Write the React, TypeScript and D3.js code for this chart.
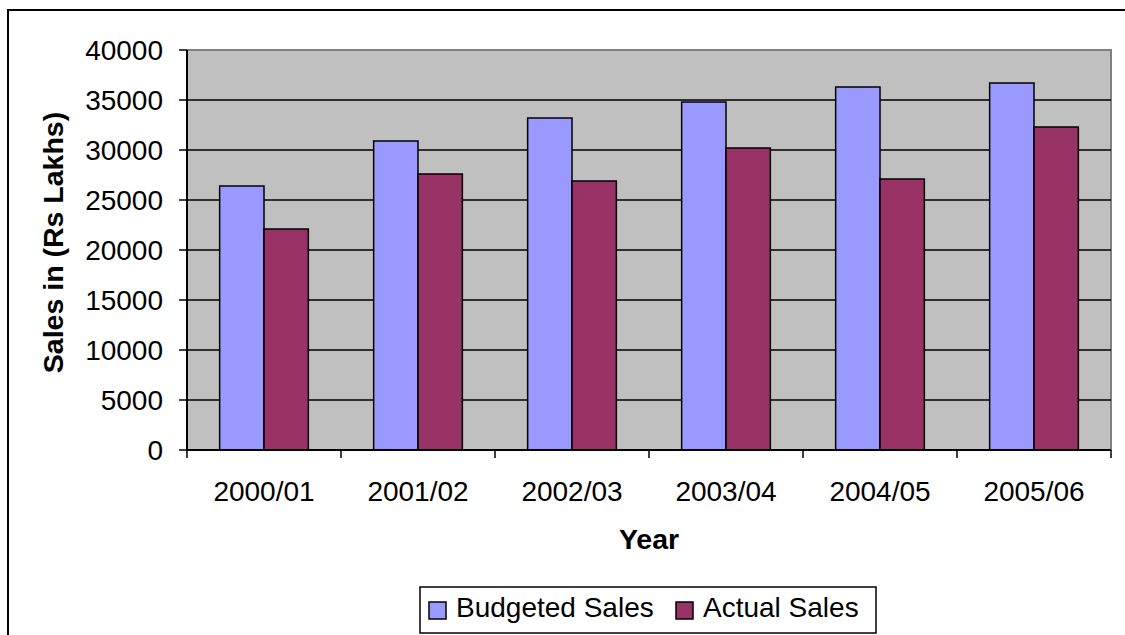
import React from "react";
import * as d3 from "d3";

const categories = ["2000/01", "2001/02", "2002/03", "2003/04", "2004/05", "2005/06"];
const budgetedSales = [26400, 30900, 33200, 34800, 36300, 36700];
const actualSales = [22100, 27600, 26900, 30200, 27100, 32300];
const seriesNames = ["Budgeted Sales", "Actual Sales"];
const seriesColors = ["#9999FF", "#993366"];
const yTicks = [0, 5000, 10000, 15000, 20000, 25000, 30000, 35000, 40000];

const W = 1125;
const H = 635;
const plot = { left: 187, right: 1111, top: 50, bottom: 450 };
const FONT = "'Liberation Sans', Arial, sans-serif";

export default function App() {
  const x = d3
    .scaleBand<string>()
    .domain(categories)
    .range([plot.left, plot.right])
    .paddingInner(0.424)
    .paddingOuter(0.212);
  const xSub = d3.scaleBand<number>().domain([0, 1]).range([0, x.bandwidth()]);
  const y = d3.scaleLinear().domain([0, 40000]).range([plot.bottom, plot.top]);
  const step = (plot.right - plot.left) / categories.length;
  const boundaries = d3.range(categories.length + 1).map((i) => plot.left + i * step);
  const series = [budgetedSales, actualSales];

  return (
    <svg
      width={W}
      height={H}
      style={{ position: "absolute", left: 0, top: 0, background: "#fff" }}
      fontFamily={FONT}
    >
      <rect x={0} y={0} width={W} height={H} fill="#fff" />
      {/* outer frame */}
      <rect x={8} y={10} width={1300} height={800} fill="none" stroke="#000" strokeWidth={2} />
      {/* plot area */}
      <rect
        x={plot.left}
        y={plot.top}
        width={plot.right - plot.left}
        height={plot.bottom - plot.top}
        fill="#C0C0C0"
        stroke="#808080"
        strokeWidth={2}
      />
      {/* gridlines */}
      {yTicks.filter((t) => t > 0 && t < 40000).map((t) => (
        <line key={t} x1={plot.left} x2={plot.right} y1={y(t)} y2={y(t)} stroke="#000" strokeWidth={1.5} />
      ))}
      {/* bars */}
      {categories.map((c, i) => (
        <g key={c}>
          {series.map((s, k) => (
            <rect
              key={k}
              x={(x(c) as number) + (xSub(k) as number)}
              y={y(s[i])}
              width={xSub.bandwidth()}
              height={y(0) - y(s[i])}
              fill={seriesColors[k]}
              stroke="#000"
              strokeWidth={1.5}
            />
          ))}
        </g>
      ))}
      {/* axes */}
      <line x1={plot.left} x2={plot.left} y1={plot.top} y2={plot.bottom} stroke="#000" strokeWidth={2} />
      <line x1={plot.left} x2={plot.right} y1={plot.bottom} y2={plot.bottom} stroke="#000" strokeWidth={2} />
      {yTicks.map((t) => (
        <g key={t}>
          <line x1={plot.left - 8} x2={plot.left} y1={y(t)} y2={y(t)} stroke="#000" strokeWidth={1.5} />
          <text x={163} y={y(t)} dy="0.35em" textAnchor="end" fontSize={28} fill="#000">
            {t}
          </text>
        </g>
      ))}
      {boundaries.map((b, i) => (
        <line key={i} x1={b} x2={b} y1={plot.bottom} y2={plot.bottom + 8} stroke="#000" strokeWidth={1.5} />
      ))}
      {categories.map((c) => (
        <text key={c} x={(x(c) as number) + x.bandwidth() / 2} y={501} textAnchor="middle" fontSize={28} fill="#000">
          {c}
        </text>
      ))}
      {/* axis titles */}
      <text x={(plot.left + plot.right) / 2} y={549} textAnchor="middle" fontSize={28.5} fontWeight="bold" fill="#000">
        Year
      </text>
      <text
        transform="translate(63, 242.5) rotate(-90)"
        textAnchor="middle"
        fontSize={28.5}
        fontWeight="bold"
        fill="#000"
      >
        Sales in (Rs Lakhs)
      </text>
      {/* legend */}
      <rect x={420} y={587} width={456} height={46} fill="#fff" stroke="#000" strokeWidth={1.5} />
      {seriesNames.map((n, k) => {
        const sx = k === 0 ? 429 : 676;
        return (
          <g key={n}>
            <rect x={sx} y={602} width={17} height={17} fill={seriesColors[k]} stroke="#000" strokeWidth={1.5} />
            <text x={sx + 27} y={617} fontSize={28} fill="#000">
              {n}
            </text>
          </g>
        );
      })}
    </svg>
  );
}
